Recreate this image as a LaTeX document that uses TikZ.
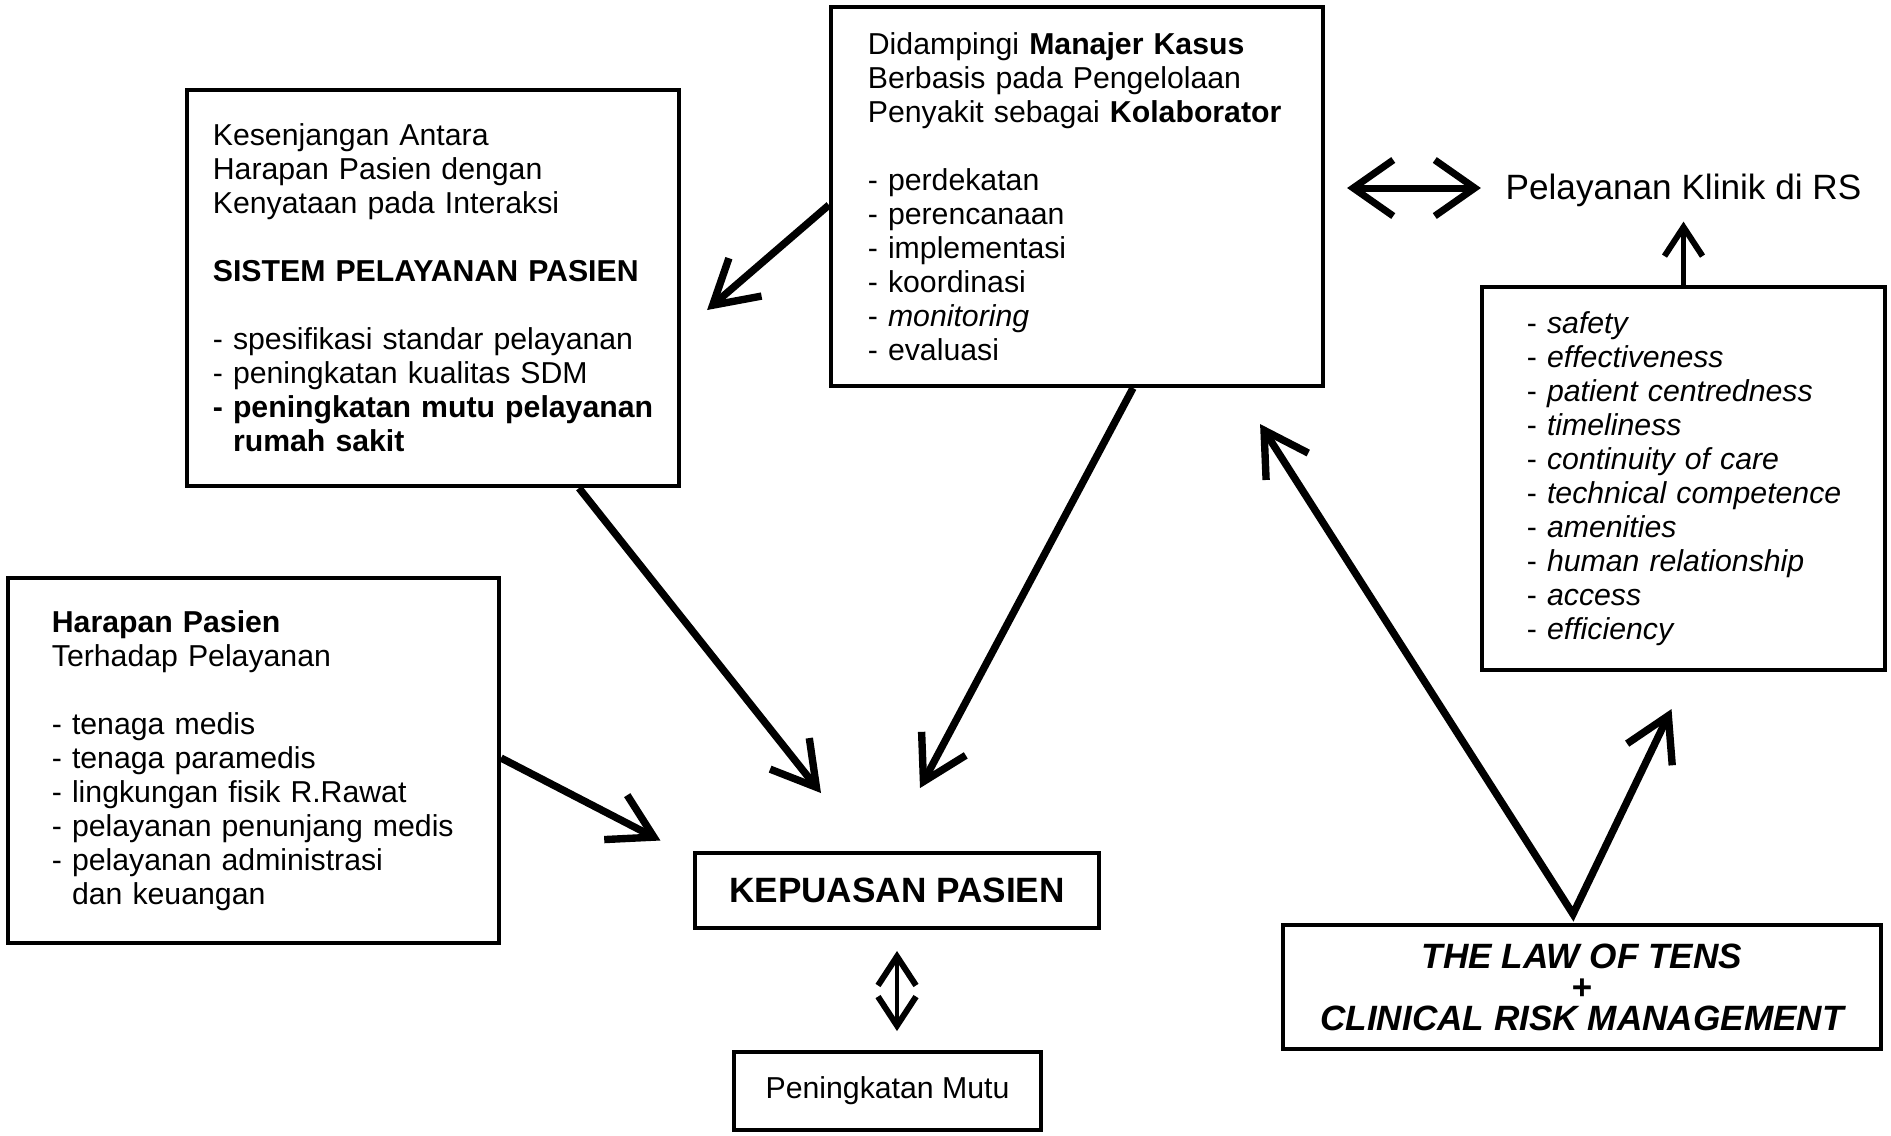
\documentclass[tikz,border=0pt]{standalone}
\usepackage{fontspec}
\setmainfont{Liberation Sans}
\usetikzlibrary{arrows.meta,calc}
\begin{document}
\begin{tikzpicture}[x=0.01cm, y=-0.01cm, line join=miter,
	font=\fontsize{8.6}{9.67}\selectfont,
	box/.style={draw, line width=1.1pt, align=left, inner ysep=0pt},
	bigarrow/.style={line width=2.1pt, >={Straight Barb[length=4.3mm,width=5mm]}, ->},
	dblarrow/.style={line width=2pt, >={Straight Barb[length=4mm,width=5.6mm]}, <->},
	thinarrow/.style={line width=1.4pt, >={Straight Barb[length=2.9mm,width=3.8mm,line width=1.7pt]}, ->}]
	\def\gap{\\[\baselineskip]} % baris kosong
	\useasboundingbox (0,0) rectangle (1891,1135);
	% kotak-kotak
	\node[box, text width=4.18cm, inner xsep=0.37cm, minimum height=3.79cm] (kasus) at (1077,196.5)
	{Didampingi \textbf{Manajer Kasus}\\ Berbasis pada Pengelolaan\\ \mbox{Penyakit sebagai \textbf{Kolaborator}}\gap
	- perdekatan\\ - perencanaan\\ - implementasi\\ - koordinasi\\ - \textit{monitoring}\\ - evaluasi};
	\node[box, text width=4.40cm, inner xsep=0.26cm, minimum height=3.96cm] (kesenjangan) at (433,288)
	{Kesenjangan Antara\\ Harapan Pasien dengan\\ Kenyataan pada Interaksi\gap
	\textbf{SISTEM PELAYANAN PASIEN}\gap
	- spesifikasi standar pelayanan\\ - peningkatan kualitas SDM\\
	\textbf{\mbox{- peningkatan mutu pelayanan}}\\ \textbf{\phantom{- }rumah sakit}};
	\node[box, text width=4.03cm, inner xsep=0.44cm, minimum height=3.64cm] (harapan) at (253.5,760.5)
	{\textbf{Harapan Pasien}\\ Terhadap Pelayanan\gap
	- tenaga medis\\ - tenaga paramedis\\ - lingkungan fisik R.Rawat\\ \mbox{- pelayanan penunjang medis}\\
	- pelayanan administrasi\\ \phantom{- }dan keuangan};
	\node[box, text width=3.13cm, inner xsep=0.45cm, minimum height=3.83cm] (dimensi) at (1683.5,478.5)
	{- \textit{safety}\\ - \textit{effectiveness}\\ \mbox{- \textit{patient centredness}}\\ - \textit{timeliness}\\
	- \textit{continuity of care}\\ \mbox{- \textit{technical competence}}\\ - \textit{amenities}\\
	\mbox{- \textit{human relationship}}\\ - \textit{access}\\ - \textit{efficiency}};
	\node[box, align=center, minimum width=4.03cm, minimum height=0.75cm,
	font=\fontsize{10}{12}\selectfont\bfseries] (kepuasan) at (897,890.5) {KEPUASAN PASIEN};
	\node[box, align=center, minimum width=3.06cm, minimum height=0.78cm] (mutu) at (887.5,1091) {Peningkatan Mutu};
	\node[box, align=center, minimum width=5.97cm, minimum height=1.24cm,
	font=\fontsize{10}{8.8}\selectfont\bfseries\itshape] (hukum) at (1582,987)
	{THE LAW OF TENS\\ +\\ CLINICAL RISK MANAGEMENT};
	\node[anchor=base, inner sep=0pt, font=\fontsize{10}{12}\selectfont] (klinik) at (1683.5,199.6) {Pelayanan Klinik di RS};
	% panah
	\draw[bigarrow] ($(kasus.west)+(0,8.5)$) -- ($(kesenjangan.east)+(26,22)$);
	\draw[bigarrow] ($(kesenjangan.south)+(146,0)$) -- ($(kepuasan.north)+(-76,-58)$);
	\draw[bigarrow] ($(kasus.south)+(56,0)$) -- ($(kepuasan.north)+(23,-63)$);
	\draw[bigarrow] ($(harapan.east)+(0,-2.5)$) -- ($(kepuasan.west)+(-33,-50)$);
	\draw[bigarrow,<->] ($(kasus.south east)+(-65,36)$) -- ($(hukum.north)+(-9,-9)$) -- ($(dimensi.south)+(-12,37)$);
	\draw[dblarrow] ($(kasus.east)+(22,-8.5)$) -- ($(klinik.base west)+(-24,-11.6)$);
	\draw[thinarrow, shorten >=0.14cm] (dimensi.north) -- (dimensi.north |- klinik.south);
	\draw[thinarrow, <->, line width=1.1pt, shorten <=0.21cm, shorten >=0.19cm] (kepuasan.south) -- (kepuasan.south |- mutu.north);
\end{tikzpicture}
\end{document}
